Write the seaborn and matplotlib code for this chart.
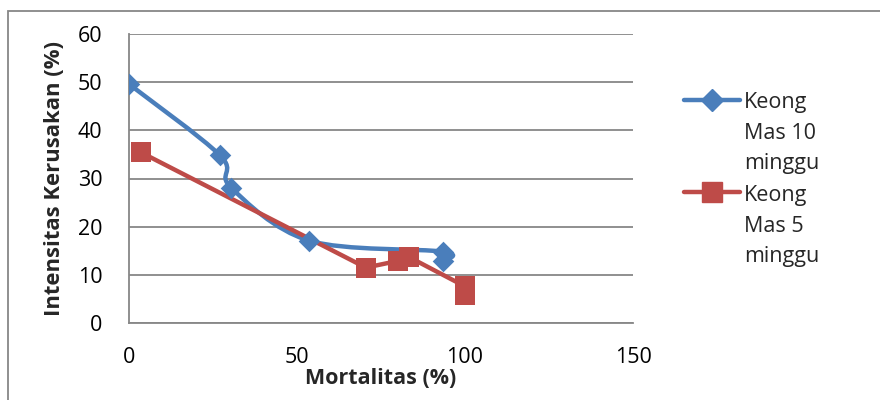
import numpy as np
import matplotlib
matplotlib.use("Agg")
import matplotlib.pyplot as plt
import seaborn as sns
from matplotlib.path import Path
from matplotlib.patches import PathPatch, Rectangle
from matplotlib.lines import Line2D

# ---- data ----
blue_x = [0.0, 27.1, 30.4, 53.6, 93.5, 93.5]
blue_y = [49.6, 34.8, 28.1, 17.1, 14.8, 12.8]
red_x = [3.6, 70.5, 80.1, 83.3, 100.0, 100.0]
red_y = [35.4, 11.5, 12.9, 13.7, 7.6, 5.9]
series_names = ["Keong\nMas 10\nminggu", "Keong\nMas 5\nminggu"]
x_ticks = [0, 50, 100, 150]
y_ticks = [0, 10, 20, 30, 40, 50, 60]

BLUE = "#4A7EBB"
RED = "#BE4B48"
GRID = "#878787"

sns.set_theme(style="white")
plt.rcParams["font.family"] = ["Open Sans", "DejaVu Sans"]

fig = plt.figure(figsize=(8.8, 4.0), dpi=100)
ax = fig.add_axes([129 / 880, 1 - 323 / 400, (633 - 129) / 880, (323 - 34) / 400])


def smooth_path(xs, ys):
    pts = np.column_stack([xs, ys])
    n = len(pts)
    verts = [pts[0]]
    codes = [Path.MOVETO]
    for i in range(n - 1):
        p0 = pts[i - 1] if i > 0 else pts[i]
        p1 = pts[i]
        p2 = pts[i + 1]
        p3 = pts[i + 2] if i + 2 < n else pts[i + 1]
        c1 = p1 + (p2 - p0) / 6.0
        c2 = p2 - (p3 - p1) / 6.0
        verts += [c1, c2, p2]
        codes += [Path.CURVE4] * 3
    return Path(verts, codes)


# blue series: smoothed line
ax.add_patch(PathPatch(smooth_path(blue_x, blue_y), facecolor="none", edgecolor=BLUE,
                       lw=3.2, capstyle="round", joinstyle="round", zorder=3))
sns.scatterplot(x=blue_x, y=blue_y, ax=ax, marker="D", s=11 ** 2, color=BLUE,
                edgecolor=BLUE, linewidth=0, zorder=4, legend=False)
# red series
sns.lineplot(x=red_x, y=red_y, ax=ax, sort=False, estimator=None, color=RED,
             lw=3.2, zorder=3, legend=False)
ax.lines[-1].set_solid_capstyle("round")
ax.lines[-1].set_solid_joinstyle("round")
sns.scatterplot(x=red_x, y=red_y, ax=ax, marker="s", s=14 ** 2, color=RED,
                edgecolor=RED, linewidth=0, zorder=4, legend=False)

ax.set_xlim(0, 150)
ax.set_ylim(0, 60)
ax.set_xticks(x_ticks)
ax.set_yticks(y_ticks)
ax.tick_params(axis="both", length=0, labelsize=15.5, colors="black")
ax.tick_params(axis="x", pad=17)
ax.tick_params(axis="y", pad=19)
ax.grid(axis="y", color=GRID, lw=1.3)
ax.grid(axis="x", visible=False)
for s in ["top", "right"]:
    ax.spines[s].set_visible(False)
for s in ["left", "bottom"]:
    ax.spines[s].set_color(GRID)
    ax.spines[s].set_linewidth(1.3)

ax.set_xlabel("Mortalitas (%)", fontsize=15.5, fontweight="bold", labelpad=0)
ax.set_ylabel("Intensitas Kerusakan (%)", fontsize=15.8, fontweight="bold", labelpad=9)

handles = [
    Line2D([], [], color=BLUE, lw=3.2, marker="D", ms=11, solid_capstyle="round"),
    Line2D([], [], color=RED, lw=3.2, marker="s", ms=14, solid_capstyle="round"),
]
leg = fig.legend(handles, series_names, loc="upper left",
                 bbox_to_anchor=(684 / 880, 1 - 92 / 400), frameon=False,
                 fontsize=15.5, handlelength=2.6, handletextpad=0.2,
                 borderpad=0, borderaxespad=0, labelspacing=0.5)
for t in leg.get_texts():
    t.set_linespacing(1.6)
try:
    for col in leg._legend_handle_box.get_children():
        for hp in col.get_children():
            hp.align = "top"
except Exception:
    pass

fig.patches.append(Rectangle((8 / 880, -0.1), 1.2, 1 - 11 / 400 + 0.1,
                             transform=fig.transFigure, fill=False,
                             edgecolor=GRID, lw=1.3))

fig.savefig("out.png", dpi=100)
